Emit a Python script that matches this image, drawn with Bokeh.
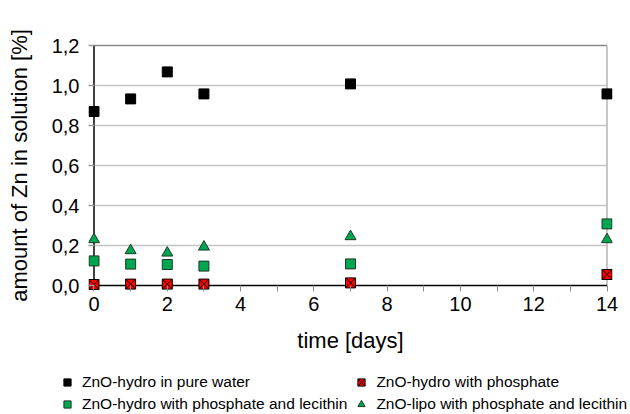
from bokeh.plotting import figure
from bokeh.models import (Range1d, FixedTicker, CustomJSTickFormatter, Legend,
                          LegendItem)
from bokeh.embed import file_html
from bokeh.resources import INLINE

# ---- data ----
days = [0, 1, 2, 3, 7, 14]
pure_water = [0.870, 0.933, 1.068, 0.958, 1.008, 0.958]
phosphate = [0.005, 0.007, 0.007, 0.007, 0.013, 0.055]
phos_lecithin = [0.123, 0.107, 0.105, 0.097, 0.108, 0.308]
lipo_phos_lecithin = [0.230, 0.175, 0.163, 0.193, 0.245, 0.230]

labels = ["ZnO-hydro in pure water", "ZnO-hydro with phosphate",
          "ZnO-hydro with phosphate and lecithin", "ZnO-lipo with phosphate and lecithin"]
x_ticks = [0, 2, 4, 6, 8, 10, 12, 14]
x_minor = [1, 3, 5, 7, 9, 11, 13]
y_ticks = [0.0, 0.2, 0.4, 0.6, 0.8, 1.0, 1.2]

FONT = "Liberation Sans"
GREEN = "#00a550"
EDGE = "#1f3a26"
X0, X1 = -0.15, 14.15
Y0, Y1 = -0.03, 1.23
XMIN, XMAX = x_ticks[0], x_ticks[-1]
YMIN, YMAX = y_ticks[0], y_ticks[-1]

styles = [dict(marker="square", size=10, fill_color="black", line_color="black"),
          dict(marker="square_x", size=10, fill_color="#ff0000", line_color="black"),
          dict(marker="square", size=10, fill_color=GREEN, line_color=EDGE),
          dict(marker="triangle", size=11, fill_color=GREEN, line_color=EDGE)]
series = [pure_water, phosphate, phos_lecithin, lipo_phos_lecithin]

p = figure(width=630, height=360, output_backend="svg", toolbar_location=None,
           x_range=Range1d(X0, X1), y_range=Range1d(Y0, Y1),
           min_border_left=88, min_border_right=18, min_border_top=39,
           min_border_bottom=69)
p.outline_line_color = None
p.background_fill_color = "white"
p.border_fill_color = "white"
p.xgrid.visible = False
p.ygrid.visible = False

# horizontal grid lines, top border, right border, axis lines
inner = y_ticks[1:-1]
p.segment(x0=[XMIN] * len(inner), y0=inner, x1=[XMAX] * len(inner), y1=inner,
          line_color="#c4c4c4", line_width=1.5)
p.segment(x0=[XMIN], y0=[YMAX], x1=[XMAX], y1=[YMAX],
          line_color="#8a8a8a", line_width=1.5)
p.segment(x0=[XMAX], y0=[YMIN], x1=[XMAX], y1=[YMAX],
          line_color="#b4b4b4", line_width=1.5)
p.segment(x0=[XMIN, XMIN], y0=[YMIN, YMIN], x1=[XMAX, XMIN], y1=[YMIN, YMAX],
          line_color="black", line_width=1.5)

# x axis (ticks pointing from frame edge up to y=0)
xa = p.xaxis[0]
xa.ticker = FixedTicker(ticks=x_ticks, minor_ticks=x_minor)
xa.axis_line_color = None
xa.major_tick_in = 6
xa.major_tick_out = 0
xa.minor_tick_in = 6
xa.minor_tick_out = 0
xa.major_tick_line_color = "#8c8c8c"
xa.minor_tick_line_color = "#8c8c8c"
xa.major_label_text_font = FONT
xa.major_label_text_font_size = "20px"
xa.major_label_text_color = "black"
xa.major_label_standoff = 5
xa.axis_label = "time [days]"
xa.axis_label_text_font = FONT
xa.axis_label_text_font_size = "22px"
xa.axis_label_text_font_style = "normal"
xa.axis_label_text_color = "black"
xa.axis_label_standoff = 14

# y axis (ticks from frame edge to x=0)
ya = p.yaxis[0]
ya.ticker = FixedTicker(ticks=y_ticks, minor_ticks=[])
ya.formatter = CustomJSTickFormatter(code="return tick.toFixed(1).replace('.', ',');")
ya.axis_line_color = None
ya.major_tick_in = 6
ya.major_tick_out = 0
ya.major_tick_line_color = "#9a9a9a"
ya.major_tick_line_width = 1.5
ya.minor_tick_line_color = None
ya.major_label_text_font = FONT
ya.major_label_text_font_size = "20px"
ya.major_label_text_color = "black"
ya.major_label_standoff = 9
ya.axis_label = "amount of Zn in solution [%]"
ya.axis_label_text_font = FONT
ya.axis_label_text_font_size = "22px"
ya.axis_label_text_font_style = "normal"
ya.axis_label_text_color = "black"
ya.axis_label_standoff = 17

for ys, st in zip(series, styles):
    p.scatter(days, ys, line_width=1, **st)

# legend strip (same series, drawn out of range so only the legend shows)
lg = figure(width=630, height=54, output_backend="svg", toolbar_location=None,
            x_range=Range1d(0, 1), y_range=Range1d(10, 11),
            min_border_left=0, min_border_right=0, min_border_top=0,
            min_border_bottom=0, x_axis_type=None, y_axis_type=None)
lg.outline_line_color = None
lg.xgrid.visible = False
lg.ygrid.visible = False
items = []
for ys, st, lab in zip(series, styles, labels):
    r = lg.scatter(days, ys, line_width=1, **st)
    items.append(LegendItem(label=lab, renderers=[r]))

legend = Legend(items=items, location=(57, 1), orientation="horizontal", ncols=2,
                border_line_color=None, background_fill_alpha=0,
                padding=0, margin=0, spacing=4,
                glyph_width=20, glyph_height=18, label_height=18,
                label_standoff=5, label_text_color="black",
                label_text_font=FONT, label_text_font_size="15.5px")
lg.add_layout(legend, "center")

open("out.html", "w").write(file_html([p, lg], INLINE))
